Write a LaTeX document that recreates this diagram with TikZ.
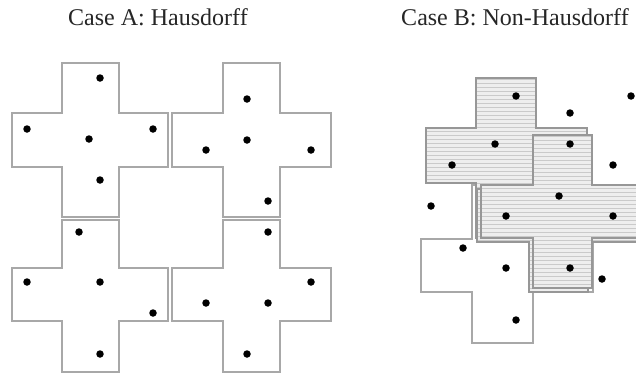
\documentclass[tikz,border=0pt]{standalone}
\usepackage{fontspec}
\setmainfont{Liberation Serif}
\definecolor{edge}{HTML}{A8A8A8}
\definecolor{hatchbg}{HTML}{EEEEEE}
\definecolor{hatchln}{HTML}{CACACA}
\tikzset{
  crossA/.style={draw=edge, line width=1.3pt, fill=white},
  crossW/.style={draw=edge, line width=1.3pt, fill=white},
  crossH/.style={draw=edge!90!black, line width=1.2pt, fill=hatchbg,
    path picture={\foreach \k in {0,...,60}{\draw[hatchln, line width=1pt]
      ([yshift=-\k*4pt-1pt]path picture bounding box.north west) --
      ([yshift=-\k*4pt-1pt]path picture bounding box.north east);}}},
  dot/.style={circle, fill=black, inner sep=0pt, minimum size=7.5pt},
  title/.style={font=\fontsize{24}{27}\selectfont, text=black!85, inner sep=0pt}
}
% #1 style, #2 x1, #3 x2, #4 y1, #5 y2, #6 xl, #7 xr, #8 yt, #9 yb
\newcommand{\Xcross}[9]{%
  \draw[#1] (#6,#4) -- (#2,#4) -- (#2,#8) -- (#3,#8) -- (#3,#4) -- (#7,#4) --
    (#7,#5) -- (#3,#5) -- (#3,#9) -- (#2,#9) -- (#2,#5) -- (#6,#5) -- cycle;}
\begin{document}
\begin{tikzpicture}[x=1pt,y=-1pt]
\clip (0,0) rectangle (636,375);
\fill[white] (0,0) rectangle (636,375);
% titles
\node[title] (tA) at (158,17) {Case A: Hausdorff};
\node[title] (tB) at (515,17) {Case B: Non-Hausdorff};
% Case A crosses
\Xcross{crossA}{62}{119}{113}{167}{12}{168}{63}{217}
\Xcross{crossA}{223}{280}{113}{167}{172}{331}{63}{217}
\Xcross{crossA}{62}{119}{268}{321}{12}{168}{220}{372}
\Xcross{crossA}{223}{280}{268}{321}{172}{331}{220}{372}
% Case A dots
\foreach \p [count=\i] in {(100,78),(27,129),(89,139),(153,129),(100,180),
  (247,99),(247,140),(206,150),(311,150),(268,201),
  (79,232),(27,282),(100,282),(153,313),(100,354),
  (268,232),(311,282),(206,303),(268,303),(247,354)}
  \node[dot] (a\i) at \p {};
% Case B crosses
\Xcross{crossW}{472}{533}{239}{292}{421}{593}{185}{343}
\Xcross{crossH}{476}{536}{128}{183}{426}{587}{78}{238}
\begin{scope}
  \clip (400,186) rectangle (636,375);
  \Xcross{crossH}{529}{588}{189}{242}{477}{660}{139}{292}
\end{scope}
\Xcross{crossH}{533}{592}{185}{238}{481}{660}{135}{288}
% Case B dots
\foreach \p [count=\i] in {(516,96),(570,113),(631,96),(495,144),(570,144),
  (452,165),(613,165),(559,196),(431,206),(506,216),(613,216),
  (463,248),(506,268),(570,268),(602,279),(516,320)}
  \node[dot] (b\i) at \p {};
\end{tikzpicture}
\end{document}
